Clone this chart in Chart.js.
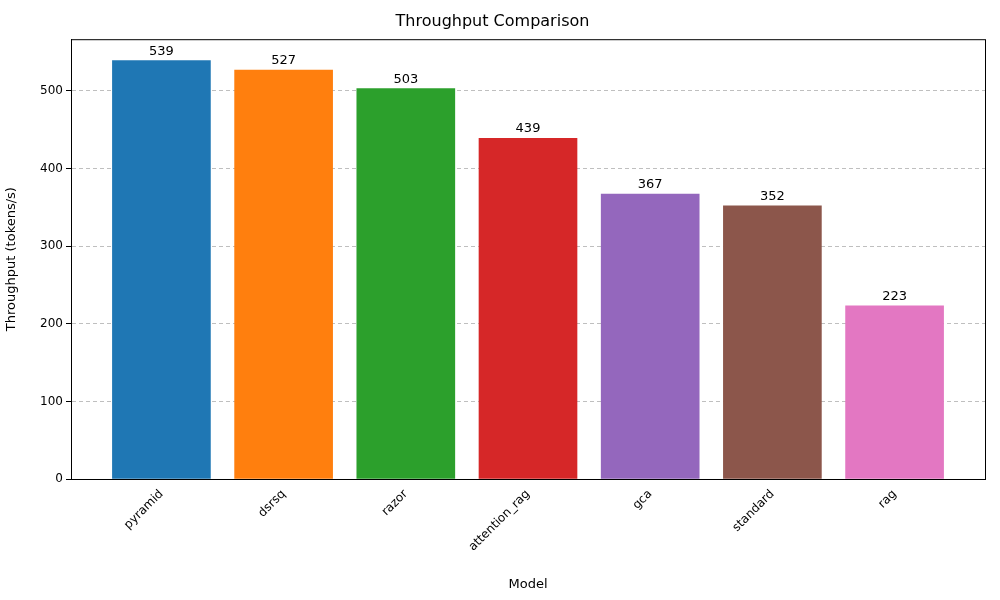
<!DOCTYPE html>
<html>
<head>
<script src="https://cdn.jsdelivr.net/npm/chart.js@4"></script>
<style>body{margin:0;background:#fff}</style>
</head>
<body>
<canvas id="c" width="1000" height="600"></canvas>
<script>
const modelos = ['pyramid', 'dsrsq', 'razor', 'attention_rag', 'gca', 'standard', 'rag'];
const throughput = [539, 527, 503, 439, 367, 352, 223];
const colores = ['#1f77b4', '#ff7f0e', '#2ca02c', '#d62728', '#9467bd', '#8c564b', '#e377c2'];
const fuente = "'DejaVu Sans', sans-serif";

// Etiquetas encima de cada barra
const etiquetasPlugin = {
    id: 'etiquetas',
    afterDatasetsDraw(chart) {
        const ctx = chart.ctx;
        const meta = chart.getDatasetMeta(0);
        ctx.save();
        ctx.font = '13px ' + fuente;
        ctx.fillStyle = '#000';
        ctx.textAlign = 'center';
        ctx.textBaseline = 'bottom';
        meta.data.forEach((bar, i) => {
            ctx.fillText(throughput[i], bar.x, bar.y - 3);
        });
        ctx.restore();
    }
};

new Chart(document.getElementById('c'), {
    type: 'bar',
    data: {
        datasets: [{
            data: throughput.map((v, i) => ({x: i, y: v})),
            backgroundColor: colores,
            barThickness: 98
        }]
    },
    options: {
        responsive: false,
        devicePixelRatio: 1,
        animation: false,
        layout: {padding: {top: 0, right: 15, left: 0, bottom: 0}},
        plugins: {
            legend: {display: false},
            tooltip: {enabled: false},
            title: {
                display: true,
                text: 'Throughput Comparison',
                color: '#000',
                font: {size: 16, family: fuente, weight: 'normal'},
                padding: {top: 12, bottom: 8}
            }
        },
        scales: {
            x: {
                type: 'linear',
                min: -0.74,
                max: 6.74,
                offset: false,
                afterBuildTicks(axis) {
                    axis.ticks = modelos.map((m, i) => ({value: i}));
                },
                afterFit(axis) { axis.height = 121; },
                ticks: {
                    callback: (v) => modelos[v],
                    maxRotation: 45,
                    minRotation: 45,
                    color: '#000',
                    font: {size: 12, family: fuente}
                },
                grid: {display: false, drawTicks: true, tickLength: 5},
                border: {color: '#000'},
                title: {display: true, text: 'Model', color: '#000', font: {size: 13, family: fuente}, padding: {top: 0, bottom: 8}}
            },
            y: {
                min: 0,
                max: 566.7,
                afterBuildTicks(axis) {
                    axis.ticks = [0, 100, 200, 300, 400, 500].map(v => ({value: v}));
                },
                afterFit(axis) { axis.width = 71; },
                ticks: {color: '#000', font: {size: 12, family: fuente}},
                grid: {
                    color: 'rgba(0,0,0,0.25)',
                    borderDash: [4, 3],
                    tickLength: 5,
                    tickColor: '#000'
                },
                border: {color: '#000', dash: [4, 3]},
                title: {display: true, text: 'Throughput (tokens/s)', color: '#000', font: {size: 13, family: fuente}}
            }
        }
    },
    plugins: [etiquetasPlugin, {
        id: 'marco',
        afterDraw(chart) {
            const a = chart.chartArea, ctx = chart.ctx;
            ctx.save();
            ctx.strokeStyle = '#000';
            ctx.lineWidth = 1;
            ctx.strokeRect(a.left + 0.5, a.top + 0.5, a.right - a.left, a.bottom - a.top);
            ctx.restore();
        }
    }]
});
</script>
</body>
</html>
